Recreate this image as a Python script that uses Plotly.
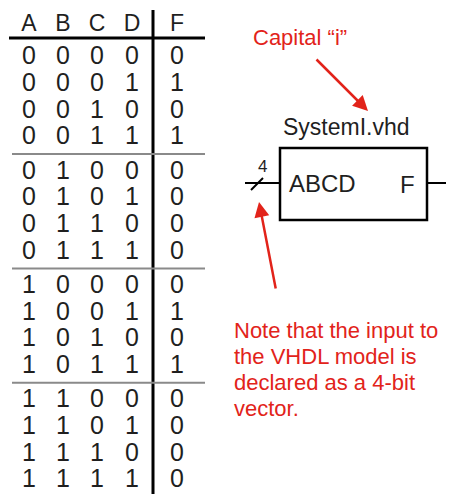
import plotly.graph_objects as go

# ---- data ----
columns = ["A", "B", "C", "D"]
output_name = "F"
col_A = [0, 0, 0, 0, 0, 0, 0, 0, 1, 1, 1, 1, 1, 1, 1, 1]
col_B = [0, 0, 0, 0, 1, 1, 1, 1, 0, 0, 0, 0, 1, 1, 1, 1]
col_C = [0, 0, 1, 1, 0, 0, 1, 1, 0, 0, 1, 1, 0, 0, 1, 1]
col_D = [0, 1, 0, 1, 0, 1, 0, 1, 0, 1, 0, 1, 0, 1, 0, 1]
col_F = [0, 1, 0, 1, 0, 0, 0, 0, 0, 1, 0, 1, 0, 0, 0, 0]

note_capital = "Capital \u201ci\u201d"
entity_name = "SystemI.vhd"
port_in = "ABCD"
port_out = "F"
bus_width = "4"
note_lines = ["Note that the input to", "the VHDL model is", "declared as a 4-bit", "vector."]

# ---- layout helpers ----
W, H = 454, 494
OFF = 8  # page body margin
RED = "#e2231a"
INK = "#1f1f1f"
FONT = "Liberation Sans, Arial, sans-serif"

col_x = [29, 63, 97, 132]
f_x = 177
row_y = [58 + (r // 4) * 114.3 + (r % 4) * 26.7 for r in range(16)]

fig = go.Figure()

for cx, vals in zip(col_x, [col_A, col_B, col_C, col_D]):
    fig.add_trace(go.Scatter(x=[cx] * 16, y=row_y, mode="text",
                             text=[str(v) for v in vals],
                             textfont=dict(size=25, color=INK, family=FONT),
                             hoverinfo="skip", showlegend=False))
fig.add_trace(go.Scatter(x=[f_x] * 16, y=row_y, mode="text",
                         text=[str(v) for v in col_F],
                         textfont=dict(size=25, color=INK, family=FONT),
                         hoverinfo="skip", showlegend=False))
fig.add_trace(go.Scatter(x=col_x + [f_x], y=[25] * 5, mode="text",
                         text=columns + [output_name],
                         textfont=dict(size=23, color=INK, family=FONT),
                         hoverinfo="skip", showlegend=False))

shapes = []
shapes.append(dict(type="line", x0=9, x1=205, y0=38, y1=38, line=dict(color="black", width=3)))
shapes.append(dict(type="line", x0=153, x1=153, y0=10, y1=494, line=dict(color="black", width=3)))
for g in range(3):
    ys = row_y[g * 4 + 3] + 16
    shapes.append(dict(type="line", x0=12, x1=205, y0=ys, y1=ys, line=dict(color="#8a8a8a", width=2)))
shapes.append(dict(type="rect", x0=280, x1=427, y0=148, y1=220, line=dict(color="black", width=2.5)))
shapes.append(dict(type="line", x0=245, x1=280, y0=183, y1=183, line=dict(color="black", width=2)))
shapes.append(dict(type="line", x0=251, x1=263, y0=190, y1=178, line=dict(color="black", width=2)))
shapes.append(dict(type="line", x0=427, x1=454, y0=183, y1=183, line=dict(color="black", width=2)))

annotations = [
    dict(x=300, y=37, text=note_capital, showarrow=False, font=dict(size=22, color=RED, family=FONT)),
    dict(x=346, y=127, text=entity_name, showarrow=False, font=dict(size=23, color=INK, family=FONT)),
    dict(x=287, y=183, text=port_in, showarrow=False, xanchor="left", font=dict(size=24, color=INK, family=FONT)),
    dict(x=407, y=184, text=port_out, showarrow=False, font=dict(size=24, color=INK, family=FONT)),
    dict(x=262, y=166, text=bus_width, showarrow=False, font=dict(size=17, color=INK, family=FONT)),
    dict(x=368, y=111, ax=315, ay=58, axref="x", ayref="y", xref="x", yref="y", text="",
         showarrow=True, arrowhead=2, arrowsize=1.2, arrowwidth=2.5, arrowcolor=RED),
    dict(x=259, y=202, ax=276, ay=290, axref="x", ayref="y", xref="x", yref="y", text="",
         showarrow=True, arrowhead=2, arrowsize=1.2, arrowwidth=2.5, arrowcolor=RED),
]
for i, line in enumerate(note_lines):
    annotations.append(dict(x=232, y=330 + i * 26, text=line, showarrow=False, xanchor="left",
                            font=dict(size=22, color=RED, family=FONT)))

fig.update_layout(
    width=W - OFF, height=H - OFF, margin=dict(l=0, r=0, t=0, b=0),
    paper_bgcolor="white", plot_bgcolor="white",
    xaxis=dict(range=[OFF, W], visible=False, fixedrange=True),
    yaxis=dict(range=[H, OFF], visible=False, fixedrange=True),
    shapes=shapes, annotations=annotations,
)
fig.write_html("out.html")
